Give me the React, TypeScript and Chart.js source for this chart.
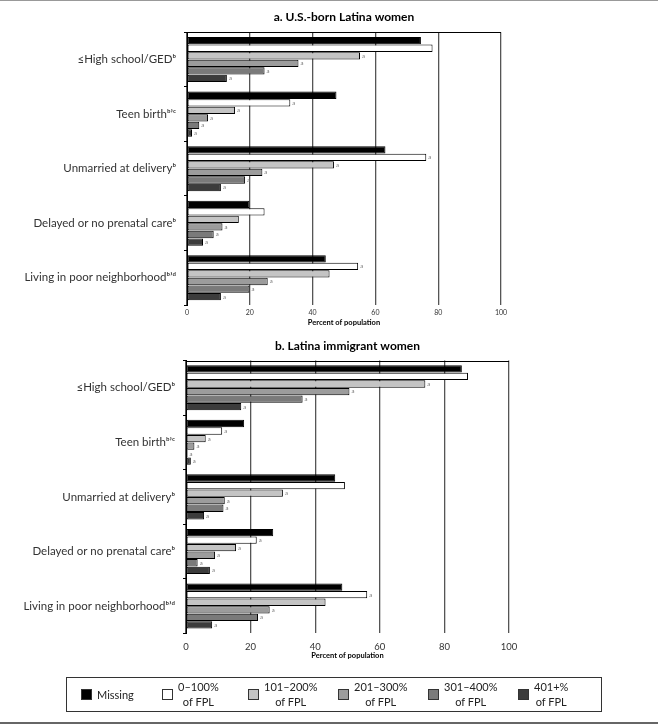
import React, { useEffect, useRef } from 'react';
import { Chart, registerables } from 'chart.js';
Chart.register(...registerables);

const categories = [
  '≤High school/GEDᵇ',
  'Teen birthᵇʼᶜ',
  'Unmarried at deliveryᵇ',
  'Delayed or no prenatal careᵇ',
  'Living in poor neighborhoodᵇʼᵈ',
];
const seriesNames = ['Missing', '0–100% of FPL', '101–200% of FPL', '201–300% of FPL', '301–400% of FPL', '401+% of FPL'];
const legendLines = [['Missing'], ['0–100%', 'of FPL'], ['101–200%', 'of FPL'], ['201–300%', 'of FPL'], ['301–400%', 'of FPL'], ['401+%', 'of FPL']];
const seriesColors = ['#000000', '#ffffff', '#c4c4c4', '#9c9c9c', '#7a7a7a', '#3c3c3c'];
const xTicks = [0, 20, 40, 60, 80, 100];

// a. U.S.-born Latina women
const usMissing = [74.5, 47.6, 63.2, 19.9, 44.2];
const us0to100 = [78.2, 32.9, 76.2, 24.7, 54.5];
const us101to200 = [55.1, 15.3, 46.8, 16.5, 45.4];
const us201to300 = [35.5, 6.7, 24.0, 11.3, 25.7];
const us301to400 = [24.7, 3.9, 18.5, 8.5, 19.9];
const us401plus = [12.7, 1.6, 10.8, 5.1, 10.8];
const usFlags = [
  [0, 0, 0, 0, 0],
  [0, 1, 1, 0, 1],
  [1, 1, 1, 0, 0],
  [1, 1, 1, 1, 1],
  [1, 1, 1, 1, 1],
  [1, 1, 1, 1, 1],
];

// b. Latina immigrant women
const imMissing = [85.4, 18.0, 46.2, 27.0, 48.4];
const im0to100 = [87.3, 11.2, 49.2, 21.9, 56.1];
const im101to200 = [74.1, 6.1, 30.0, 15.5, 43.2];
const im201to300 = [50.6, 2.6, 12.0, 9.0, 25.9];
const im301to400 = [36.1, 0.5, 11.6, 3.6, 22.3];
const im401plus = [17.1, 1.5, 5.6, 7.4, 8.1];
const imFlags = [
  [0, 0, 0, 0, 0],
  [0, 1, 0, 1, 1],
  [1, 1, 1, 1, 0],
  [1, 1, 1, 1, 1],
  [1, 1, 1, 1, 1],
  [1, 1, 1, 1, 1],
];

const FONT = 'Lato, "Open Sans", sans-serif';

const marksPlugin = {
  id: 'marks',
  afterDatasetsDraw(chart: any, _args: any, opts: any) {
    const ctx = chart.ctx;
    const flags = opts.flags || [];
    ctx.save();
    ctx.font = `6px ${FONT}`;
    ctx.fillStyle = '#7a7a7a';
    ctx.textBaseline = 'middle';
    ctx.textAlign = 'left';
    chart.data.datasets.forEach((_ds: any, i: number) => {
      const meta = chart.getDatasetMeta(i);
      meta.data.forEach((el: any, j: number) => {
        if (flags[i] && flags[i][j]) ctx.fillText('a', el.x + 2, el.y);
      });
    });
    const { left, right, top } = chart.chartArea;
    ctx.strokeStyle = '#000';
    ctx.lineWidth = 1;
    ctx.beginPath();
    ctx.moveTo(left, Math.round(top) + 0.5);
    ctx.lineTo(right, Math.round(top) + 0.5);
    ctx.stroke();
    // panel title, centred over the plot area
    ctx.font = `bold 12px ${FONT}`;
    ctx.fillStyle = '#000';
    ctx.textAlign = 'center';
    ctx.textBaseline = 'middle';
    ctx.fillText(opts.title, (left + right) / 2, opts.titleY);
    ctx.restore();
  },
};

type Panel = {
  title: string;
  titleY: number;
  plotTop: number;
  values: number[][];
  flags: number[][];
  yWidth: number;
  rightPad: number;
  xHeight: number;
  tickSize: number;
  tickPad: number;
  xTitlePad: number;
};

function makeConfig(p: Panel): any {
  return {
    type: 'bar',
    data: {
      labels: categories,
      datasets: p.values.map((v, i) => ({
        label: seriesNames[i],
        data: v,
        backgroundColor: seriesColors[i],
        borderColor: '#000',
        borderWidth: 1,
        borderSkipped: false,
        categoryPercentage: 0.83,
        barPercentage: 0.97,
      })),
    },
    options: {
      indexAxis: 'y',
      responsive: false,
      animation: false,
      devicePixelRatio: 1,
      layout: { padding: { left: 0, right: p.rightPad, top: p.plotTop, bottom: 0 } },
      plugins: {
        legend: { display: false },
        tooltip: { enabled: false },
        title: { display: false },
        marks: { flags: p.flags, title: p.title, titleY: p.titleY },
      },
      scales: {
        x: {
          type: 'linear',
          min: 0,
          max: 100,
          afterBuildTicks: (s: any) => {
            s.ticks = xTicks.map((v) => ({ value: v }));
          },
          afterFit: (s: any) => {
            s.height = p.xHeight;
          },
          grid: { color: '#555', lineWidth: 1.3, drawTicks: false },
          border: { display: false },
          ticks: {
            color: '#333',
            font: { family: FONT, size: p.tickSize },
            padding: p.tickPad,
            maxRotation: 0,
          },
          title: {
            display: true,
            text: 'Percent of population',
            color: '#000',
            font: { family: FONT, size: 7.5, weight: 'bold' },
            padding: { top: 0, bottom: p.xTitlePad },
          },
        },
        y: {
          type: 'category',
          afterFit: (s: any) => {
            s.width = p.yWidth;
          },
          grid: { display: true, drawOnChartArea: false, offset: true, tickLength: 3, color: '#000' },
          border: { display: true, color: '#000', width: 1 },
          ticks: {
            color: '#333',
            font: { family: FONT, size: 11.5 },
            padding: 8,
          },
        },
      },
    },
    plugins: [marksPlugin],
  };
}

function ChartCanvas({ panel, width, height, top }: { panel: Panel; width: number; height: number; top: number }) {
  const ref = useRef<HTMLCanvasElement | null>(null);
  useEffect(() => {
    if (!ref.current) return;
    const chart = new Chart(ref.current, makeConfig(panel));
    return () => chart.destroy();
  }, []);
  return (
    <canvas
      ref={ref}
      width={width}
      height={height}
      style={{ position: 'absolute', left: 0, top, width, height }}
    />
  );
}

const legendX = [81, 162, 248, 338, 428, 518];

export default function App() {
  const top: Panel = {
    title: 'a. U.S.-born Latina women',
    titleY: 16.7,
    plotTop: 32.3,
    values: [usMissing, us0to100, us101to200, us201to300, us301to400, us401plus],
    flags: usFlags,
    yWidth: 187,
    rightPad: 157,
    xHeight: 30,
    tickSize: 7,
    tickPad: 4,
    xTitlePad: 7.8,
  };
  const bottom: Panel = {
    title: 'b. Latina immigrant women',
    titleY: 15.7,
    plotTop: 30.5,
    values: [imMissing, im0to100, im101to200, im201to300, im301to400, im401plus],
    flags: imFlags,
    yWidth: 186,
    rightPad: 149,
    xHeight: 36.7,
    tickSize: 9.5,
    tickPad: 8,
    xTitlePad: 9.8,
  };
  return (
    <div style={{ position: 'absolute', left: 0, top: 0, width: 658, height: 725, background: '#fff', overflow: 'hidden' }}>
      <div style={{ position: 'absolute', left: 0, top: 0, width: 658, height: 1, background: '#999' }} />
      <ChartCanvas panel={top} width={658} height={335} top={0} />
      <ChartCanvas panel={bottom} width={658} height={340} top={330} />
      <div
        style={{
          position: 'absolute',
          left: 66,
          top: 677,
          width: 536,
          height: 35,
          border: '1px solid #333',
          boxSizing: 'border-box',
        }}
      />
      {legendLines.map((lines, i) => (
        <div key={i}>
          <div
            style={{
              position: 'absolute',
              left: legendX[i],
              top: 689,
              width: 11,
              height: 11,
              background: seriesColors[i],
              border: '1px solid #333',
              boxSizing: 'border-box',
            }}
          />
          <div
            style={{
              position: 'absolute',
              left: legendX[i] + 16,
              top: lines.length === 1 ? 687 : 679,
              fontFamily: FONT,
              fontSize: 11,
              lineHeight: '15px',
              color: '#222',
              textAlign: 'center',
              whiteSpace: 'nowrap',
            }}
          >
            {lines.map((l, k) => (
              <div key={k}>{l}</div>
            ))}
          </div>
        </div>
      ))}
      <div style={{ position: 'absolute', left: 0, top: 722, width: 658, height: 1.5, background: '#666' }} />
    </div>
  );
}
